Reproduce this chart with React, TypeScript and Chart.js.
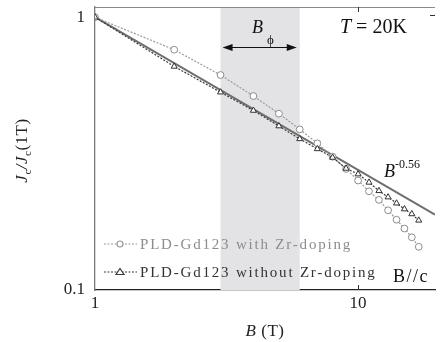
import React, { useEffect, useRef } from 'react';
import { Chart, registerables } from 'chart.js';

Chart.register(...registerables);

// ---- data ----
const fieldB = [1, 2, 3, 4, 5, 6, 7, 8, 9, 10, 11, 12, 13, 14, 15, 16, 17];
const jcWithZr = [1, 0.76, 0.614, 0.514, 0.443, 0.388, 0.345, 0.308, 0.278, 0.252, 0.23, 0.214, 0.196, 0.181, 0.168, 0.156, 0.144];
const jcWithoutZr = [1, 0.66, 0.531, 0.455, 0.399, 0.358, 0.329, 0.306, 0.279, 0.266, 0.248, 0.231, 0.219, 0.208, 0.198, 0.19, 0.18];
const fitB = [1, 19.6];
const fitJ = [1, 0.189];
const shadeRange = [3, 6];
const xTickLabels = [1, 10];
const yTickLabels = [0.1, 1];
const legendLabels = ['PLD-Gd123 with Zr-doping', 'PLD-Gd123 without Zr-doping'];
const xRange = [1, 19.6];
const yRange = [0.1, 1.09];

const SERIF = "'Liberation Serif', 'Times New Roman', serif";
const GRAY_SERIES = '#9a9a9a';
const DARK_SERIES = '#3a3a3a';

type Run = { t: string; size: number; italic?: boolean; dy?: number; color?: string };

function runFont(r: Run) {
  return `${r.italic ? 'italic ' : ''}${r.size}px ${SERIF}`;
}

function drawRuns(ctx: CanvasRenderingContext2D, x: number, y: number, runs: Run[], align: 'left' | 'center' | 'right' = 'left', color = '#222') {
  ctx.textAlign = 'left';
  ctx.textBaseline = 'alphabetic';
  let total = 0;
  for (const r of runs) {
    ctx.font = runFont(r);
    total += ctx.measureText(r.t).width;
  }
  let cx = align === 'center' ? x - total / 2 : align === 'right' ? x - total : x;
  for (const r of runs) {
    ctx.font = runFont(r);
    ctx.fillStyle = r.color || color;
    ctx.fillText(r.t, cx, y + (r.dy || 0));
    cx += ctx.measureText(r.t).width;
  }
}

const shadePlugin = {
  id: 'shade',
  beforeDatasetsDraw(chart: any) {
    const { ctx, chartArea, scales } = chart;
    const x0 = scales.x.getPixelForValue(shadeRange[0]);
    const x1 = scales.x.getPixelForValue(shadeRange[1]);
    ctx.save();
    ctx.fillStyle = '#e3e3e6';
    ctx.fillRect(x0, chartArea.top, x1 - x0, chartArea.bottom - chartArea.top);
    ctx.restore();
  },
};

const decorPlugin = {
  id: 'decor',
  afterDraw(chart: any) {
    const { ctx, chartArea, scales } = chart;
    const xs = scales.x;
    const ys = scales.y;
    ctx.save();
    (ctx as any).letterSpacing = '0px';

    // top frame line
    ctx.strokeStyle = '#8a8a8a';
    ctx.lineWidth = 1;
    ctx.beginPath();
    ctx.moveTo(chartArea.left, chartArea.top + 0.5);
    ctx.lineTo(chartArea.right, chartArea.top + 0.5);
    ctx.stroke();

    // inward ticks
    ctx.strokeStyle = '#333';
    const x10 = Math.round(xs.getPixelForValue(10)) + 0.5;
    ctx.beginPath();
    ctx.moveTo(x10, chartArea.bottom);
    ctx.lineTo(x10, chartArea.bottom - 5);
    ctx.moveTo(x10, chartArea.top);
    ctx.lineTo(x10, chartArea.top + 5);
    const y1 = Math.round(ys.getPixelForValue(1)) + 0.5;
    ctx.moveTo(chartArea.right, y1 - 2);
    ctx.lineTo(chartArea.right - 5, y1 - 2);
    ctx.stroke();

    // B_phi arrow across shaded band
    const ax0 = xs.getPixelForValue(shadeRange[0]) + 2;
    const ax1 = xs.getPixelForValue(shadeRange[1]) - 3;
    const ay = 47.5;
    ctx.strokeStyle = '#111';
    ctx.fillStyle = '#111';
    ctx.lineWidth = 1.2;
    ctx.beginPath();
    ctx.moveTo(ax0 + 6, ay);
    ctx.lineTo(ax1 - 6, ay);
    ctx.stroke();
    ctx.beginPath();
    ctx.moveTo(ax0, ay);
    ctx.lineTo(ax0 + 10, ay - 3.5);
    ctx.lineTo(ax0 + 10, ay + 3.5);
    ctx.closePath();
    ctx.fill();
    ctx.beginPath();
    ctx.moveTo(ax1, ay);
    ctx.lineTo(ax1 - 10, ay - 3.5);
    ctx.lineTo(ax1 - 10, ay + 3.5);
    ctx.closePath();
    ctx.fill();

    drawRuns(ctx, 252, 33, [{ t: 'B', size: 18, italic: true }], 'left', '#111');
    drawRuns(ctx, 267, 44, [{ t: 'ϕ', size: 13 }], 'left', '#111');

    // T = 20K
    drawRuns(ctx, 340, 33, [
      { t: 'T', size: 20, italic: true },
      { t: ' = 20K', size: 20 },
    ], 'left', '#111');

    // B^-0.56
    drawRuns(ctx, 384, 177, [
      { t: 'B', size: 18, italic: true },
      { t: '-0.56', size: 12, dy: -9 },
    ], 'left', '#111');

    // B//c
    (ctx as any).letterSpacing = '1.5px';
    drawRuns(ctx, 393, 282, [{ t: 'B//c', size: 18 }], 'left', '#111');

    // legend
    const rows = [
      { y: 244, color: GRAY_SERIES, text: '#8c8c8c', style: 'circle' },
      { y: 272, color: DARK_SERIES, text: '#333', style: 'triangle' },
    ];
    rows.forEach((row, i) => {
      (ctx as any).letterSpacing = '0px';
      ctx.strokeStyle = row.color;
      ctx.lineWidth = 1.2;
      ctx.setLineDash([2, 1.5]);
      ctx.beginPath();
      ctx.moveTo(104, row.y);
      ctx.lineTo(137, row.y);
      ctx.stroke();
      ctx.setLineDash([]);
      ctx.fillStyle = '#fff';
      ctx.beginPath();
      if (row.style === 'circle') {
        ctx.arc(120, row.y, 3, 0, Math.PI * 2);
      } else {
        ctx.moveTo(120, row.y - 3.5);
        ctx.lineTo(124, row.y + 2.5);
        ctx.lineTo(116, row.y + 2.5);
        ctx.closePath();
      }
      ctx.fill();
      ctx.stroke();
      (ctx as any).letterSpacing = '1.8px';
      drawRuns(ctx, 140, row.y + 5, [{ t: legendLabels[i], size: 15 }], 'left', row.text);
    });

    // axis titles
    (ctx as any).letterSpacing = '0.5px';
    drawRuns(ctx, (chartArea.left + chartArea.right) / 2, 336, [
      { t: 'B', size: 17, italic: true },
      { t: ' (T)', size: 17 },
    ], 'center', '#222');

    ctx.translate(27, (chartArea.top + chartArea.bottom) / 2 + 2);
    ctx.rotate(-Math.PI / 2);
    drawRuns(ctx, 0, 0, [
      { t: 'J', size: 17, italic: true },
      { t: 'c', size: 11, dy: 4 },
      { t: '/', size: 17, italic: true },
      { t: 'J', size: 17, italic: true },
      { t: 'c', size: 11, dy: 4 },
      { t: '(1T)', size: 17 },
    ], 'center', '#222');

    ctx.restore();
  },
};

export default function App() {
  const canvasRef = useRef<HTMLCanvasElement | null>(null);

  useEffect(() => {
    const canvas = canvasRef.current;
    if (!canvas) return;
    const toPts = (xs: number[], ys: number[]) => xs.map((x, i) => ({ x, y: ys[i] }));

    const chart = new Chart(canvas, {
      type: 'line',
      data: {
        datasets: [
          {
            label: legendLabels[1],
            data: toPts(fieldB, jcWithoutZr),
            borderColor: DARK_SERIES,
            borderWidth: 1.2,
            borderDash: [2, 1.5],
            pointStyle: 'triangle',
            pointRadius: 3.5,
            pointBorderWidth: 1,
            pointBackgroundColor: '#ffffff',
            pointBorderColor: '#333',
            tension: 0,
          },
          {
            label: legendLabels[0],
            data: toPts(fieldB, jcWithZr),
            borderColor: GRAY_SERIES,
            borderWidth: 1.2,
            borderDash: [2, 1.5],
            pointStyle: 'circle',
            pointRadius: 3.4,
            pointBorderWidth: 1,
            pointBackgroundColor: '#ffffff',
            pointBorderColor: '#8c8c8c',
            tension: 0,
          },
          {
            label: 'B^-0.56',
            data: toPts(fitB, fitJ),
            borderColor: '#6e6e6e',
            borderWidth: 2,
            pointRadius: 0,
            tension: 0,
          },
        ],
      },
      options: {
        responsive: false,
        animation: false,
        events: [],
        layout: { padding: { top: 7, right: 0, left: 0, bottom: 0 } },
        plugins: {
          legend: { display: false },
          tooltip: { enabled: false },
          title: { display: false },
        },
        scales: {
          x: {
            type: 'logarithmic',
            min: xRange[0],
            max: xRange[1],
            grid: { display: false, drawTicks: false },
            border: { display: true, color: '#222', width: 1.3 },
            ticks: {
              autoSkip: false,
              maxRotation: 0,
              padding: 3,
              color: '#222',
              font: { family: SERIF, size: 17 },
              callback: (v: any) => (xTickLabels.includes(Number(v)) ? String(v) : ''),
            },
            afterFit: (s: any) => {
              s.height = 52;
              s.paddingLeft = 0;
              s.paddingRight = 0;
            },
          },
          y: {
            type: 'logarithmic',
            min: yRange[0],
            max: yRange[1],
            grid: { display: false, drawTicks: false },
            border: { display: true, color: '#7a7a7a', width: 1.3 },
            ticks: {
              autoSkip: false,
              padding: 10,
              color: '#222',
              font: { family: SERIF, size: 17 },
              callback: (v: any) => {
                const n = Number(v);
                return yTickLabels.some((t) => Math.abs(t - n) < 1e-9) ? String(n) : '';
              },
            },
            afterFit: (s: any) => {
              s.width = 95;
              s.paddingTop = 0;
              s.paddingBottom = 0;
            },
          },
        },
      },
      plugins: [shadePlugin, decorPlugin],
    } as any);

    return () => chart.destroy();
  }, []);

  return (
    <div style={{ position: 'fixed', left: 0, top: 0, width: 440, height: 342, background: '#fff' }}>
      <canvas ref={canvasRef} width={440} height={342} style={{ display: 'block' }} />
    </div>
  );
}
